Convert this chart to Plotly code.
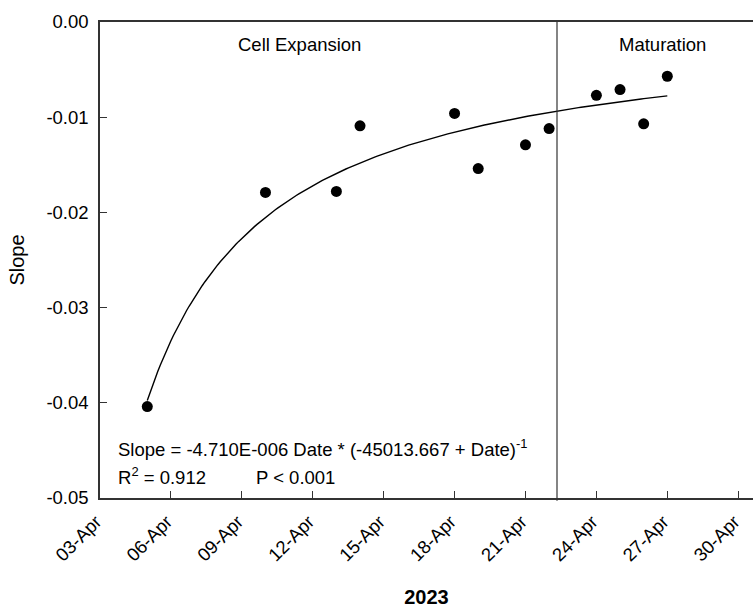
import numpy as np
import pandas as pd
import plotly.graph_objects as go

# Data
dates = ["2023-04-05", "2023-04-10", "2023-04-13", "2023-04-14", "2023-04-18", "2023-04-19",
         "2023-04-21", "2023-04-22", "2023-04-24", "2023-04-25", "2023-04-26", "2023-04-27"]
slopes = [-0.0404, -0.0179, -0.0178, -0.0109, -0.0096, -0.0154,
          -0.0129, -0.0112, -0.0077, -0.0071, -0.0107, -0.0057]

# Fit: Slope = a * Date * (b + Date)^-1   (Date as serial day number)
fit_a = -4.710e-6
fit_b = -45013.667
serial_base = "1900-01-01"  # serial numbering used by the fitting program
x_range = ["2023-04-03", "2023-04-30T15:00"]
y_range = [-0.05, 0.0]
y_tickvals = [0.0, -0.01, -0.02, -0.03, -0.04, -0.05]
y_ticktext = ["0.00", "-0.01", "-0.02", "-0.03", "-0.04", "-0.05"]
phase_split = "2023-04-22T08:00"
tick_start = "2023-04-03"

FONT = "Liberation Sans, Arial, sans-serif"
FS = 18.5

d = pd.to_datetime(dates)
curve_dates = pd.date_range(d.min(), d.max(), periods=200)
serial = ((curve_dates - pd.Timestamp(serial_base)).total_seconds() / 86400.0).to_numpy()
fit_vals = fit_a * serial / (fit_b + serial)

fig = go.Figure()
fig.add_trace(go.Scatter(x=curve_dates, y=fit_vals, mode="lines",
                         line=dict(color="black", width=1.4), showlegend=False,
                         hoverinfo="skip"))
fig.add_trace(go.Scatter(x=d, y=slopes, mode="markers",
                         marker=dict(color="black", size=11), showlegend=False))

fig.add_shape(type="line", xref="x", yref="paper", x0=phase_split, x1=phase_split,
              y0=-0.006, y1=1, line=dict(color="#333333", width=1.2))

ann_font = dict(family=FONT, size=FS, color="black")
fig.add_annotation(text="Cell Expansion", xref="paper", yref="paper", x=0.305, y=0.952,
                   showarrow=False, font=ann_font, xanchor="center", yanchor="middle")
fig.add_annotation(text="Maturation", xref="paper", yref="paper", x=0.861, y=0.952,
                   showarrow=False, font=ann_font, xanchor="center", yanchor="middle")
fig.add_annotation(text="Slope = -4.710E-006 Date * (-45013.667 + Date)<sup>-1</sup>",
                   xref="paper", yref="paper", x=0.024, y=0.106,
                   showarrow=False, font=ann_font, xanchor="left", yanchor="middle")
fig.add_annotation(text="R<sup>2</sup> = 0.912", xref="paper", yref="paper", x=0.024, y=0.047,
                   showarrow=False, font=ann_font, xanchor="left", yanchor="middle")
fig.add_annotation(text="P < 0.001", xref="paper", yref="paper", x=0.236, y=0.044,
                   showarrow=False, font=ann_font, xanchor="left", yanchor="middle")

fig.update_layout(
    width=753, height=610,
    margin=dict(l=100, r=0, t=22, b=112),
    paper_bgcolor="white", plot_bgcolor="white",
    font=dict(family=FONT, size=FS, color="black"),
    xaxis=dict(type="date", range=x_range, tick0=tick_start, dtick=3 * 86400000,
               tickformat="%d-%b", tickangle=-45, ticks="inside", ticklen=7,
               ticklabelstandoff=4, ticklabelshift=-4,
               tickcolor="#333333", tickwidth=1.2,
               showline=True, linecolor="#333333", linewidth=1.5, mirror=True,
               showgrid=False, zeroline=False,
               title=dict(text="<b>2023</b>", font=dict(family=FONT, size=20), standoff=26),
               tickfont=dict(family=FONT, size=FS)),
    yaxis=dict(range=y_range, tickvals=y_tickvals, ticktext=y_ticktext,
               ticks="inside", ticklen=7, ticklabelstandoff=6,
               tickcolor="#333333", tickwidth=1.2,
               showline=True, linecolor="#333333", linewidth=1.5,
               showgrid=False, zeroline=False,
               title=dict(text="Slope", font=dict(family=FONT, size=20), standoff=16),
               tickfont=dict(family=FONT, size=FS)),
)

fig.write_html("out.html")
